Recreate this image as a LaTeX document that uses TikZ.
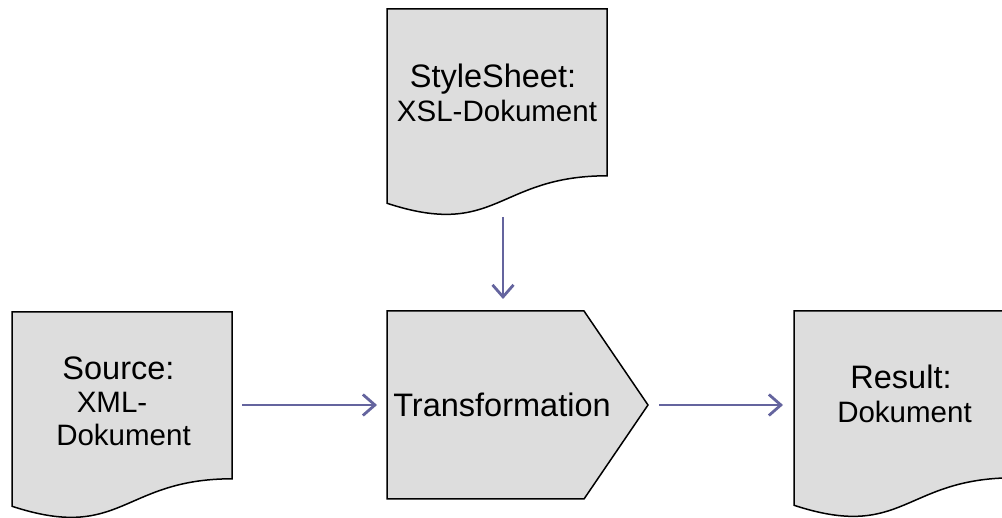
\documentclass[tikz,border=0pt]{standalone}
\usepackage{fontspec}
\setmainfont{Liberation Sans}
\usetikzlibrary{calc,arrows.meta}
\definecolor{docfill}{RGB}{221,221,221}
\definecolor{arrcol}{RGB}{100,100,158}
\tikzset{
  frame/.style={inner sep=0pt, outer sep=0pt, minimum width=220pt, minimum height=208pt, anchor=north west},
  outline/.style={draw=black, fill=docfill, line width=1.5pt, line join=miter},
  arr/.style={draw=arrcol, line width=2.8pt, -{Straight Barb[length=12pt,width=21pt]}},
  big/.style={anchor=base, inner sep=0pt, font=\fontsize{32.5}{39}\selectfont},
  small/.style={anchor=base, inner sep=0pt, font=\fontsize{29.5}{35}\selectfont},
}
\newcommand\docoutline[1]{%
  \path[outline] (#1.north west) -- (#1.north east)
    -- ($(#1.north east)!0.802!(#1.south east)$)
    .. controls ($(#1.north)!0.802!(#1.south)$) and ($(#1.north)!1.1075!(#1.south)$)
    .. ($(#1.north west)!0.934!(#1.south west)$) -- cycle;}
\begin{document}
\begin{tikzpicture}[x=1pt,y=-1pt]
\useasboundingbox (0,0) rectangle (1002,518);
\clip (0,0) rectangle (1002,518);
% frames
\node[frame] (ss) at (387,9) {};
\node[frame] (src) at (12,312) {};
\node[frame] (res) at (794,311) {};
\node[frame, minimum width=261pt, minimum height=188pt] (tr) at (387,311) {};
% outlines
\docoutline{ss}
\docoutline{src}
\docoutline{res}
\path[outline] (tr.north west) -- ([xshift=-64pt]tr.north east) -- (tr.east)
  -- ([xshift=-64pt]tr.south east) -- (tr.south west) -- cycle;
% texts
\node[big] (ssa) at (493,88) {StyleSheet:};
\node[small] (ssb) at (497,122) {XSL-Dokument};
\node[big] (srca) at (118.5,380) {Source:};
\node[small] (srcb) at (112,413) {XML-};
\node[small] (srcc) at (123.5,446) {Dokument};
\node[big] (tra) at (502,417) {Transformation};
\node[big] (resa) at (901,389) {Result:};
\node[small] (resb) at (904.5,423) {Dokument};
% arrows
\draw[arr] ([xshift=6pt]ss.south) -- ($(ss.south |- tr.north)+(6,-12)$);
\draw[arr] ($(tr.west -| src.east)+(10,0)$) -- ($(tr.west)+(-10,0)$);
\draw[arr] ($(tr.east)+(11,0)$) -- ($(tr.east -| res.west)+(-11,0)$);
\end{tikzpicture}
\end{document}
